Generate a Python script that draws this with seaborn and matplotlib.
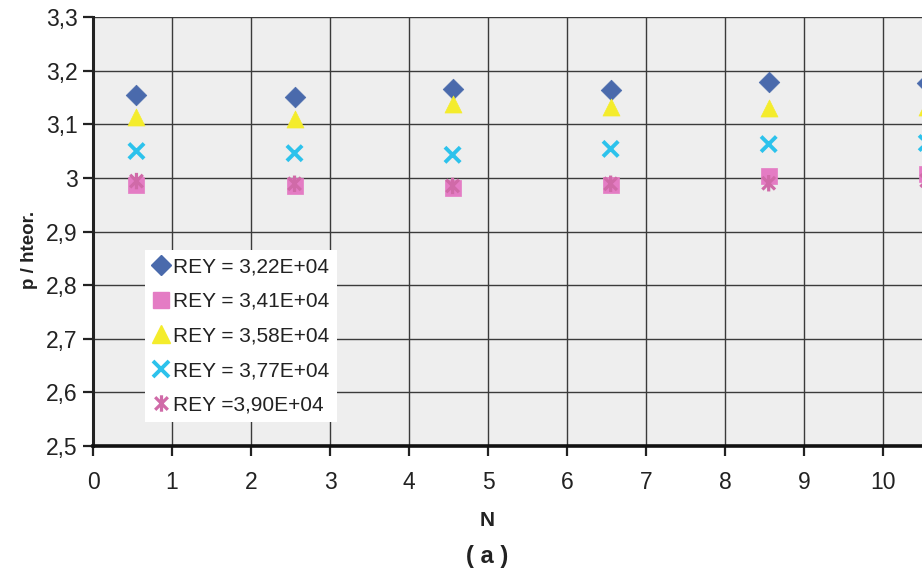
import numpy as np
import pandas as pd
import matplotlib
matplotlib.use("Agg")
import matplotlib.pyplot as plt
from matplotlib.path import Path
from matplotlib.lines import Line2D
import seaborn as sns

# Measured positions along the tube (N) and the ratio p / hteor. for each Reynolds number
n_pos = [0.55, 2.55, 4.55, 6.55, 8.55, 10.55]
rey_322 = [3.154, 3.151, 3.166, 3.164, 3.179, 3.177]
rey_341 = [2.987, 2.985, 2.981, 2.987, 3.003, 3.008]
rey_358 = [3.113, 3.110, 3.138, 3.132, 3.130, 3.132]
rey_377 = [3.050, 3.046, 3.043, 3.054, 3.063, 3.065]
rey_390 = [2.994, 2.989, 2.985, 2.989, 2.990, 2.995]

labels = ["REY = 3,22E+04", "REY = 3,41E+04", "REY = 3,58E+04",
          "REY = 3,77E+04", "REY =3,90E+04"]
y_ticks = [2.5, 2.6, 2.7, 2.8, 2.9, 3.0, 3.1, 3.2, 3.3]
y_tick_labels = ["2,5", "2,6", "2,7", "2,8", "2,9", "3", "3,1", "3,2", "3,3"]
x_ticks = list(range(0, 11))

# Asterisk marker: an "x" with a vertical bar through it
asterisk = Path(
    [(-1, -1), (1, 1), (-1, 1), (1, -1), (0, -1.3), (0, 1.3)],
    [Path.MOVETO, Path.LINETO, Path.MOVETO, Path.LINETO, Path.MOVETO, Path.LINETO],
)

# (values, marker, colour, scatter size, line width for line-art markers)
series = [
    (rey_322, "D", "#4a6aac", 110, 0),
    (rey_341, "s", "#e47cc4", 120, 0),
    (rey_358, "^", "#f4ec2c", 150, 0),
    (rey_377, "x", "#2cc2ec", 120, 2.8),
    (rey_390, asterisk, "#d06aa8", 140, 2.3),
]

sns.set_theme(style="white")
plt.rcParams["font.family"] = ["Liberation Sans", "DejaVu Sans"]

fig = plt.figure(figsize=(9.22, 5.77), dpi=100)
ax = fig.add_axes([93 / 922, 1 - 446 / 577, 1 - 93 / 922, (446 - 17) / 577])
ax.set_facecolor("#eeeeee")

for vals, mk, col, size, lw in series:
    df = pd.DataFrame({"N": n_pos, "p": vals})
    sns.scatterplot(data=df, x="N", y="p", ax=ax, marker=mk, color=col,
                    s=size, linewidth=lw if lw else 0.5, zorder=5)
    coll = ax.collections[-1]
    if lw:
        # line-art marker: stroke only
        coll.set_facecolor("none")
        coll.set_edgecolor(col)
        coll.set_linewidth(lw)
    else:
        coll.set_edgecolor(col)

ax.set_xlim(0, 10.49)
ax.set_ylim(2.5, 3.3)
ax.set_xticks(x_ticks)
ax.set_xticklabels([str(t) for t in x_ticks])
ax.set_yticks(y_ticks)
ax.set_yticklabels(y_tick_labels)

ax.grid(True, color="#3a3a3a", linewidth=1.0)
ax.set_axisbelow(True)

for side in ["top", "right"]:
    ax.spines[side].set_visible(False)
ax.spines["left"].set_color("#222222")
ax.spines["left"].set_linewidth(2.2)
ax.spines["bottom"].set_color("#111111")
ax.spines["bottom"].set_linewidth(2.6)

ax.tick_params(axis="both", direction="out", length=7, width=1.6,
               colors="#222222", labelsize=16.5, labelcolor="#222222")
ax.tick_params(axis="x", pad=11, bottom=True)
ax.tick_params(axis="y", pad=4, left=True)

ax.set_xlabel("")
ax.set_ylabel("")

fig.text(30 / 922, 1 - 250 / 577, "p / hteor.", rotation=90, ha="center",
         va="center", fontsize=13.5, fontweight="bold", color="#222222")
fig.text(487 / 922, 1 - 520 / 577, "N", ha="center", va="center",
         fontsize=15, fontweight="bold", color="#222222")
fig.text(487 / 922, 1 - 556 / 577, "( a )", ha="center", va="center",
         fontsize=17, fontweight="bold", color="#222222")

handles = []
for vals, mk, col, size, lw in series:
    if lw:
        h = Line2D([], [], linestyle="none", marker=mk, color=col,
                   markersize=np.sqrt(size), markeredgewidth=lw,
                   markerfacecolor="none", markeredgecolor=col)
    else:
        h = Line2D([], [], linestyle="none", marker=mk, color=col,
                   markersize=np.sqrt(size), markeredgecolor=col)
    handles.append(h)
leg = ax.legend(handles, labels, loc="upper left",
                bbox_to_anchor=((145 - 93) / 829, (446 - 250) / 429),
                fontsize=15, frameon=True, framealpha=1, facecolor="white",
                edgecolor="none", fancybox=False, handlelength=0.8,
                handletextpad=0.2, labelspacing=0.75, borderpad=0.35,
                borderaxespad=0)
for t in leg.get_texts():
    t.set_color("#222222")

fig.savefig("out.png", dpi=100, facecolor="white")
